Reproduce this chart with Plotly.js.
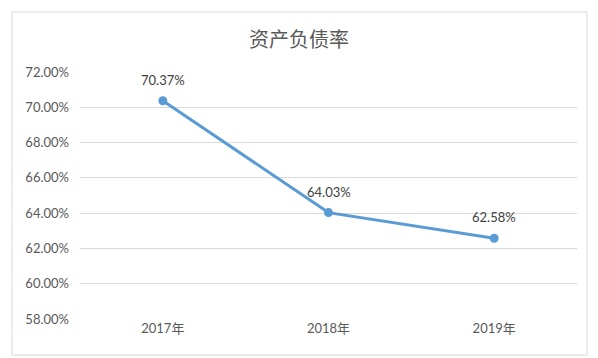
<!DOCTYPE html>
<html>
<head>
<meta charset="utf-8">
<script src="https://cdn.plot.ly/plotly-3.0.1.min.js"></script>
<style>html,body{margin:0;padding:0;background:#fff;}#chart{width:598px;height:358px;}</style>
</head>
<body>
<div id="chart"></div>
<script>
const categories = ['2017年', '2018年', '2019年'];
const debtRatio = [70.37, 64.03, 62.58];
const yTicks = [58, 60, 62, 64, 66, 68, 70, 72];

const fontFam = "Lato, 'Noto Sans CJK SC', sans-serif";
const trace = {
  x: categories,
  y: debtRatio,
  type: 'scatter',
  mode: 'lines+markers',
  line: {color: '#5B9BD5', width: 3},
  marker: {color: '#5B9BD5', size: 9},
  cliponaxis: false,
  hoverinfo: 'skip'
};
const annotations = categories.map((c, i) => ({
  x: c, y: debtRatio[i], xref: 'x', yref: 'y',
  text: debtRatio[i].toFixed(2) + '%', showarrow: false,
  yshift: 21, font: {family: fontFam, size: 13, color: '#404040'}
}));
const layout = {
  width: 598, height: 358,
  margin: {l: 80, r: 21, t: 72, b: 39},
  paper_bgcolor: '#fff', plot_bgcolor: '#fff',
  showlegend: false,
  font: {family: fontFam, color: '#595959', size: 12},
  title: {text: '资产负债率', x: 0.5, xanchor: 'center', y: 0.888, yanchor: 'middle',
          font: {family: "'Noto Sans CJK SC', sans-serif", size: 20, color: '#595959'}},
  xaxis: {type: 'category', range: [-0.5, 2.5], showgrid: false, zeroline: false,
          showline: false, ticks: '', tickfont: {size: 13, color: '#595959'}},
  yaxis: {range: [58, 72], tickvals: yTicks, ticktext: yTicks.map(v => v.toFixed(2) + '%'),
          showgrid: true, gridcolor: '#d9d9d9', gridwidth: 1, zeroline: false, showline: false,
          ticks: '', ticklabelstandoff: 10, tickfont: {size: 13, color: '#595959'}},
  annotations: annotations,
  shapes: [{type: 'rect', xref: 'paper', yref: 'paper', x0: -0.137, x1: 1.02, y0: -0.146, y1: 1.243,
            line: {color: '#d9d9d9', width: 1}, fillcolor: 'rgba(0,0,0,0)', layer: 'below'}]
};
Plotly.newPlot('chart', [trace], layout, {displayModeBar: false, staticPlot: true});
</script>
</body>
</html>
